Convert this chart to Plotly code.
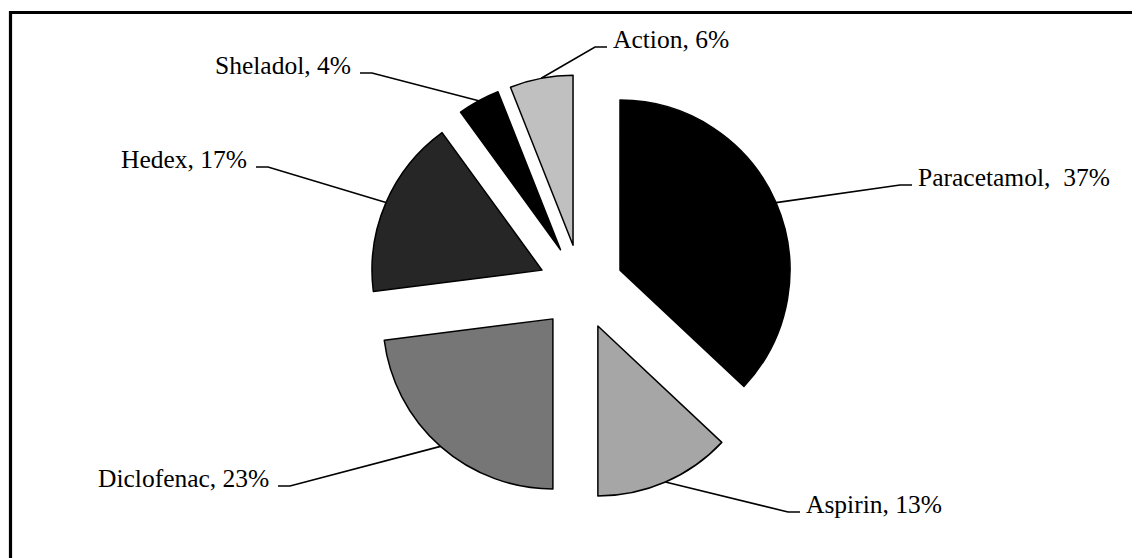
import math
import plotly.graph_objects as go

# ---- data ----
labels = ["Paracetamol", "Aspirin", "Diclofenac", "Hedex", "Sheladol", "Action"]
values = [37, 13, 23, 17, 4, 6]
label_texts = ["Paracetamol,  37%", "Aspirin, 13%", "Diclofenac, 23%",
               "Hedex, 17%", "Sheladol, 4%", "Action, 6%"]
colors = ["#000000", "#a6a6a6", "#767676", "#262626", "#000000", "#c0c0c0"]

# ---- layout parameters (pixels, in screenshot coordinates) ----
W, H = 1140, 558
OFF = 8                    # page body margin
CX, CY = 581, 287          # pie centre
PULL = 0.25
R = 170                    # slice radius
BOX = R * (2 + 2 * PULL)   # plotly domain size giving radius R

# elbow point of each leader line (px)
elbows = [(900, 185), (788, 512), (290, 486), (268, 167), (372, 73), (595, 47)]
HSEG = 12

def px(x):
    return (x - OFF) / W

def py(y):
    return 1 - (y - OFF) / H

fig = go.Figure(go.Pie(
    labels=labels, values=values, sort=False, direction="clockwise", rotation=0,
    pull=[PULL] * len(values), textinfo="none", hoverinfo="label+percent",
    marker=dict(colors=colors, line=dict(color="#000000", width=1.5)),
    domain=dict(x=[px(CX - BOX / 2), px(CX + BOX / 2)],
                y=[py(CY + BOX / 2), py(CY - BOX / 2)]),
    showlegend=False,
))

total = sum(values)
cum = 0
shapes = []
annotations = []
for i, v in enumerate(values):
    mid = (cum + v / 2) / total * 2 * math.pi
    cum += v
    dist = R * (1 + PULL)
    x0 = CX + dist * math.sin(mid)
    y0 = CY - dist * math.cos(mid)
    ex, ey = elbows[i]
    right = ex > CX
    x2 = ex + HSEG if right else ex - HSEG
    path = f"M {px(x0)} {py(y0)} L {px(ex)} {py(ey)} L {px(x2)} {py(ey)}"
    shapes.append(dict(type="path", xref="paper", yref="paper", path=path,
                       line=dict(color="#000000", width=1.6)))
    annotations.append(dict(
        x=px(x2 + (4 if right else -7)), y=py(ey - 8), xref="paper", yref="paper",
        text=label_texts[i], showarrow=False,
        xanchor="left" if right else "right", yanchor="middle",
        font=dict(family="Liberation Serif, Times New Roman, serif", size=25.5, color="#000000"),
    ))

# chart frame (left and top edges visible)
shapes.append(dict(type="line", xref="paper", yref="paper", x0=px(10.5), x1=px(10.5),
                   y0=-0.05, y1=py(11), line=dict(color="#000000", width=3.2)))
shapes.append(dict(type="line", xref="paper", yref="paper", x0=px(9), x1=1.05,
                   y0=py(12.5), y1=py(12.5), line=dict(color="#000000", width=3.2)))

fig.update_layout(
    width=W, height=H, margin=dict(l=0, r=0, t=0, b=0),
    paper_bgcolor="#ffffff", plot_bgcolor="#ffffff",
    shapes=shapes, annotations=annotations,
)
fig.write_html("out.html")
